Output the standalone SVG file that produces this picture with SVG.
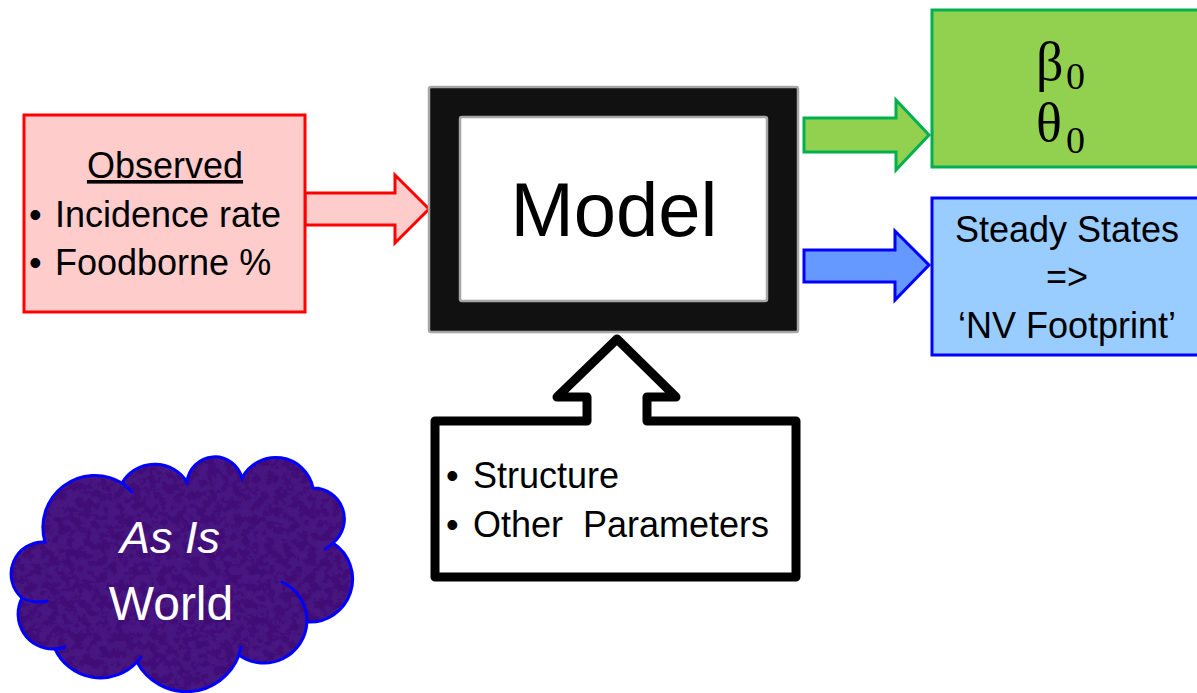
<svg xmlns="http://www.w3.org/2000/svg" width="1197" height="693" viewBox="0 0 1197 693">
<style>
  .sans { font-family: "Liberation Sans", Arial, sans-serif; fill: #000; }
  .t36 { font-size: 36px; }
  .mid { text-anchor: middle; }
  .greek { font-family: "Liberation Serif", "DejaVu Serif", serif; fill: #000; }
  .arrow { stroke-width: 3; stroke-linejoin: miter; }
  .cloudline { fill: none; stroke: #0000FF; stroke-width: 3; stroke-linecap: round; }
</style>
<defs>
  <filter id="tex" x="0" y="0" width="100%" height="100%">
    <feTurbulence type="fractalNoise" baseFrequency="0.12" numOctaves="3" seed="7" result="n"/>
    <feColorMatrix in="n" type="matrix" values="0.45 0 0 0 0.62  0.45 0 0 0 0.62  0.45 0 0 0 0.62  0 0 0 0 1" result="g"/>
    <feBlend in="SourceGraphic" in2="g" mode="multiply" result="m"/>
    <feComposite in="m" in2="SourceGraphic" operator="in"/>
  </filter>
</defs>
<rect width="1197" height="693" fill="#FFFFFF"/>

<g id="connectors">
  <polygon class="arrow" points="305,193 395,193 395,175 429,209 395,243 395,225 305,225" fill="#FFCCCC" stroke="#FF0000"/>
  <polygon class="arrow" points="804,118 896,118 896,100 929,135 896,170 896,152 804,152" fill="#92D050" stroke="#00B050"/>
  <polygon class="arrow" points="804,250 895,250 895,231 929,265 895,300 895,282 804,282" fill="#6699FF" stroke="#0000FF"/>
</g>

<g id="observed">
  <rect x="24" y="115" width="281" height="197" fill="#FFCCCC" stroke="#FF0000" stroke-width="3"/>
  <text class="sans t36 mid" x="165" y="178" text-decoration="underline">Observed</text>
  <text class="sans t36" y="227"><tspan x="29">•</tspan><tspan x="55">Incidence rate</tspan></text>
  <text class="sans t36" y="275"><tspan x="29">•</tspan><tspan x="55">Foodborne %</tspan></text>
</g>

<g id="model">
  <rect x="429" y="87" width="369" height="245" rx="2" fill="#111111" stroke="#A6A6A6" stroke-width="2.5"/>
  <rect x="460" y="117" width="307" height="184" rx="2" fill="#FFFFFF" stroke="#A6A6A6" stroke-width="2.5"/>
  <text class="sans mid" x="614" y="236" font-size="76">Model</text>
</g>

<g id="params">
  <rect x="932" y="10" width="275" height="157" fill="#92D050" stroke="#00B050" stroke-width="3"/>
  <text class="greek" font-size="54"><tspan x="1036" y="80">β</tspan><tspan x="1066" y="89" font-size="38">0</tspan></text>
  <text class="greek" font-size="54"><tspan x="1036" y="141">θ</tspan><tspan x="1066" y="153" font-size="38">0</tspan></text>
</g>

<g id="steady">
  <rect x="932" y="198" width="275" height="157" fill="#99CCFF" stroke="#0000FF" stroke-width="3"/>
  <text class="sans t36 mid" x="1067" y="242">Steady States</text>
  <text class="sans t36 mid" x="1067" y="289">=&gt;</text>
  <text class="sans t36 mid" x="1067" y="338">‘NV Footprint’</text>
</g>

<g id="structure">
  <path d="M617,339 L557,397 L587,397 L587,421 L435,421 L435,577 L796,577 L796,421 L647,421 L647,397 L676,397 Z" fill="#FFFFFF" stroke="#000000" stroke-width="9" stroke-linejoin="round"/>
  <text class="sans t36" y="488"><tspan x="446">•</tspan><tspan x="473">Structure</tspan></text>
  <text class="sans t36" y="537" xml:space="preserve" style="white-space:pre"><tspan x="446">•</tspan><tspan x="473">Other  Parameters</tspan></text>
</g>

<g id="world">
  <path d="M45,542 A52,52 0 0 1 122,483 A38,38 0 0 1 187,482 A28,28 0 0 1 242,478 A38,38 0 0 1 313,488 A31,31 0 0 1 333,543 A43,43 0 0 1 307,622 A43,43 0 0 1 239,655 A56,56 0 0 1 137,662 A50,50 0 0 1 55,649 A35,35 0 0 1 22,598 A32,32 0 0 1 45,542 Z" fill="#4A1486" filter="url(#tex)"/>
  <path class="cloudline" d="M45,542 A52,52 0 0 1 122,483 A38,38 0 0 1 187,482 A28,28 0 0 1 242,478 A38,38 0 0 1 313,488 A31,31 0 0 1 333,543 A43,43 0 0 1 307,622 A43,43 0 0 1 239,655 A56,56 0 0 1 137,662 A50,50 0 0 1 55,649 A35,35 0 0 1 22,598 A32,32 0 0 1 45,542 Z"/>
  <path class="cloudline" d="M122,483 A52,52 0 0 1 132,492"/>
  <path class="cloudline" d="M22,598 Q34,604 47,601"/>
  <path class="cloudline" d="M65,647 A35,35 0 0 1 55,649"/>
  <path class="cloudline" d="M141,657 A50,50 0 0 1 137,662"/>
  <path class="cloudline" d="M241,647 A56,56 0 0 1 239,655"/>
  <path class="cloudline" d="M282,582 A43,43 0 0 1 307,622"/>
  <path class="cloudline" d="M333,543 A31,31 0 0 1 325,549"/>
  <text class="sans mid" x="170" y="553" font-size="45" font-style="italic" style="fill:#FFFFFF">As Is</text>
  <text class="sans mid" x="171" y="620" font-size="48" style="fill:#FFFFFF">World</text>
</g>
</svg>
